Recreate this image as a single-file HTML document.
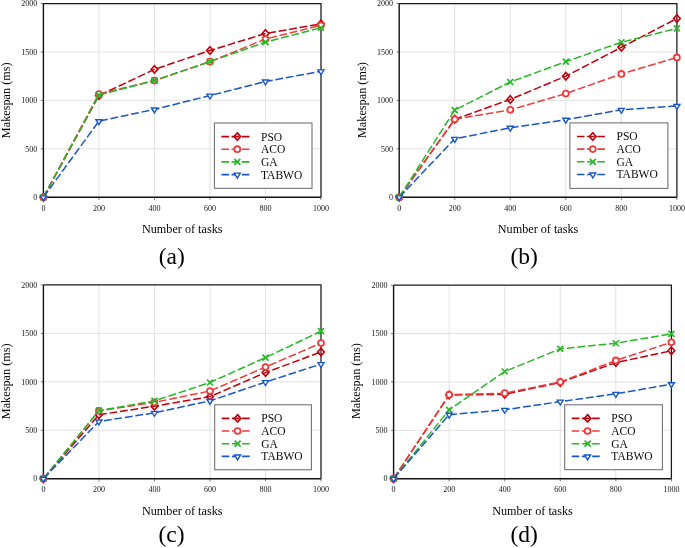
<!DOCTYPE html>
<html><head><meta charset="utf-8"><title>Makespan comparison</title>
<style>
html,body{margin:0;padding:0;background:#fff;}
body{width:685px;height:548px;overflow:hidden;font-family:"Liberation Serif",serif;}
svg{display:block;filter:blur(0.3px);}
</style></head>
<body>
<svg width="685" height="548" viewBox="0 0 685 548">
<rect width="685" height="548" fill="#fff"/>
<path d='M98.92 3.50V197.30M154.44 3.50V197.30M209.96 3.50V197.30M265.48 3.50V197.30M43.40 148.85H321.00M43.40 100.40H321.00M43.40 51.95H321.00' stroke='#e2e2e2' stroke-width='1' fill='none'/>
<path d='M43.40 197.30V199.90M98.92 197.30V199.90M154.44 197.30V199.90M209.96 197.30V199.90M265.48 197.30V199.90M321.00 197.30V199.90M40.80 197.30H43.40M40.80 148.85H43.40M40.80 100.40H43.40M40.80 51.95H43.40M40.80 3.50H43.40' stroke='#555' stroke-width='0.8' fill='none'/>
<path d='M43.40 3.50H321.00V197.30' stroke='#1a1a1a' stroke-width='1.25' fill='none'/>
<path d='M43.40 3.50V197.30H321.00' stroke='#111' stroke-width='1.4' fill='none'/>
<text x='43.40' y='210.50' text-anchor='middle' font-size='8' font-family='Liberation Serif, serif' fill='#141414'>0</text>
<text x='98.92' y='210.50' text-anchor='middle' font-size='8' font-family='Liberation Serif, serif' fill='#141414'>200</text>
<text x='154.44' y='210.50' text-anchor='middle' font-size='8' font-family='Liberation Serif, serif' fill='#141414'>400</text>
<text x='209.96' y='210.50' text-anchor='middle' font-size='8' font-family='Liberation Serif, serif' fill='#141414'>600</text>
<text x='265.48' y='210.50' text-anchor='middle' font-size='8' font-family='Liberation Serif, serif' fill='#141414'>800</text>
<text x='321.00' y='210.50' text-anchor='middle' font-size='8' font-family='Liberation Serif, serif' fill='#141414'>1000</text>
<text x='37.20' y='200.00' text-anchor='end' font-size='8' font-family='Liberation Serif, serif' fill='#141414'>0</text>
<text x='37.20' y='151.55' text-anchor='end' font-size='8' font-family='Liberation Serif, serif' fill='#141414'>500</text>
<text x='37.20' y='103.10' text-anchor='end' font-size='8' font-family='Liberation Serif, serif' fill='#141414'>1000</text>
<text x='37.20' y='54.65' text-anchor='end' font-size='8' font-family='Liberation Serif, serif' fill='#141414'>1500</text>
<text x='37.20' y='6.20' text-anchor='end' font-size='8' font-family='Liberation Serif, serif' fill='#141414'>2000</text>
<text x='182.20' y='232.90' text-anchor='middle' font-size='12.2' font-family='Liberation Serif, serif' fill='#050505'>Number of tasks</text>
<text transform='translate(9.90 100.25) rotate(-90)' text-anchor='middle' font-size='12.25' font-family='Liberation Serif, serif' fill='#050505'>Makespan (ms)</text>
<text x='171.80' y='263.60' text-anchor='middle' font-size='23.5' font-family='Liberation Serif, serif' fill='#000'>(a)</text>
<polyline points='43.40,197.30 98.92,95.56 154.44,69.39 209.96,50.50 265.48,33.54 321.00,23.85' fill='none' stroke='#c0000c' stroke-width='1.5' stroke-dasharray='7.8 2.8' stroke-linejoin='round'/>
<path d='M43.40 193.55L46.75 197.30L43.40 201.05L40.05 197.30Z' fill='none' stroke='#c0000c' stroke-width='1.6'/>
<path d='M98.92 91.81L102.27 95.56L98.92 99.31L95.57 95.56Z' fill='none' stroke='#c0000c' stroke-width='1.6'/>
<path d='M154.44 65.64L157.79 69.39L154.44 73.14L151.09 69.39Z' fill='none' stroke='#c0000c' stroke-width='1.6'/>
<path d='M209.96 46.75L213.31 50.50L209.96 54.25L206.61 50.50Z' fill='none' stroke='#c0000c' stroke-width='1.6'/>
<path d='M265.48 29.79L268.83 33.54L265.48 37.29L262.13 33.54Z' fill='none' stroke='#c0000c' stroke-width='1.6'/>
<path d='M321.00 20.10L324.35 23.85L321.00 27.60L317.65 23.85Z' fill='none' stroke='#c0000c' stroke-width='1.6'/>
<polyline points='43.40,197.30 98.92,94.00 154.44,80.54 209.96,61.64 265.48,39.06 321.00,25.30' fill='none' stroke='#f03c3c' stroke-width='1.5' stroke-dasharray='7.8 2.8' stroke-linejoin='round'/>
<circle cx='43.40' cy='197.30' r='2.95' fill='#fff' stroke='#f03c3c' stroke-width='1.8'/>
<circle cx='98.92' cy='94.00' r='2.95' fill='#fff' stroke='#f03c3c' stroke-width='1.8'/>
<circle cx='154.44' cy='80.54' r='2.95' fill='#fff' stroke='#f03c3c' stroke-width='1.8'/>
<circle cx='209.96' cy='61.64' r='2.95' fill='#fff' stroke='#f03c3c' stroke-width='1.8'/>
<circle cx='265.48' cy='39.06' r='2.95' fill='#fff' stroke='#f03c3c' stroke-width='1.8'/>
<circle cx='321.00' cy='25.30' r='2.95' fill='#fff' stroke='#f03c3c' stroke-width='1.8'/>
<polyline points='43.40,197.30 98.92,95.07 154.44,80.54 209.96,61.64 265.48,42.07 321.00,27.73' fill='none' stroke='#26b826' stroke-width='1.5' stroke-dasharray='7.8 2.8' stroke-linejoin='round'/>
<path d='M40.40 194.30L46.40 200.30M40.40 200.30L46.40 194.30' stroke='#26b826' stroke-width='1.7' fill='none'/>
<path d='M95.92 92.07L101.92 98.07M95.92 98.07L101.92 92.07' stroke='#26b826' stroke-width='1.7' fill='none'/>
<path d='M151.44 77.54L157.44 83.54M151.44 83.54L157.44 77.54' stroke='#26b826' stroke-width='1.7' fill='none'/>
<path d='M206.96 58.64L212.96 64.64M206.96 64.64L212.96 58.64' stroke='#26b826' stroke-width='1.7' fill='none'/>
<path d='M262.48 39.07L268.48 45.07M262.48 45.07L268.48 39.07' stroke='#26b826' stroke-width='1.7' fill='none'/>
<path d='M318.00 24.73L324.00 30.73M318.00 30.73L324.00 24.73' stroke='#26b826' stroke-width='1.7' fill='none'/>
<polyline points='43.40,197.30 98.92,121.14 154.44,109.41 209.96,95.56 265.48,81.50 321.00,71.33' fill='none' stroke='#1856cc' stroke-width='1.5' stroke-dasharray='7.8 2.8' stroke-linejoin='round'/>
<path d='M40.40 195.84L46.40 195.84L43.40 200.74Z' fill='#fff' stroke='#1856cc' stroke-width='1.4' stroke-linejoin='miter'/>
<path d='M95.92 119.68L101.92 119.68L98.92 124.58Z' fill='#fff' stroke='#1856cc' stroke-width='1.4' stroke-linejoin='miter'/>
<path d='M151.44 107.95L157.44 107.95L154.44 112.85Z' fill='#fff' stroke='#1856cc' stroke-width='1.4' stroke-linejoin='miter'/>
<path d='M206.96 94.10L212.96 94.10L209.96 99.00Z' fill='#fff' stroke='#1856cc' stroke-width='1.4' stroke-linejoin='miter'/>
<path d='M262.48 80.05L268.48 80.05L265.48 84.95Z' fill='#fff' stroke='#1856cc' stroke-width='1.4' stroke-linejoin='miter'/>
<path d='M318.00 69.87L324.00 69.87L321.00 74.77Z' fill='#fff' stroke='#1856cc' stroke-width='1.4' stroke-linejoin='miter'/>
<rect x='214.40' y='123.00' width='97.60' height='65.30' fill='#fff' stroke='#666' stroke-width='1'/>
<path d='M221.40 136.60H250.00' stroke='#c0000c' stroke-width='1.6' stroke-dasharray='7.6 2.6' fill='none'/>
<path d='M237.30 132.85L240.65 136.60L237.30 140.35L233.95 136.60Z' fill='none' stroke='#c0000c' stroke-width='1.6'/>
<text x='261.00' y='140.50' font-size='11.5' font-family='Liberation Serif, serif' fill='#0a0a0a'>PSO</text>
<path d='M221.40 149.20H250.00' stroke='#f03c3c' stroke-width='1.6' stroke-dasharray='7.6 2.6' fill='none'/>
<circle cx='237.30' cy='149.20' r='2.95' fill='#fff' stroke='#f03c3c' stroke-width='1.8'/>
<text x='261.00' y='153.10' font-size='11.5' font-family='Liberation Serif, serif' fill='#0a0a0a'>ACO</text>
<path d='M221.40 161.90H250.00' stroke='#26b826' stroke-width='1.6' stroke-dasharray='7.6 2.6' fill='none'/>
<path d='M234.30 158.90L240.30 164.90M234.30 164.90L240.30 158.90' stroke='#26b826' stroke-width='1.7' fill='none'/>
<text x='261.00' y='165.80' font-size='11.5' font-family='Liberation Serif, serif' fill='#0a0a0a'>GA</text>
<path d='M221.40 174.60H250.00' stroke='#1856cc' stroke-width='1.6' stroke-dasharray='7.6 2.6' fill='none'/>
<path d='M234.30 173.14L240.30 173.14L237.30 178.04Z' fill='#fff' stroke='#1856cc' stroke-width='1.4' stroke-linejoin='miter'/>
<text x='261.00' y='178.50' font-size='11.5' font-family='Liberation Serif, serif' fill='#0a0a0a'>TABWO</text>
<path d='M454.74 3.50V197.30M510.28 3.50V197.30M565.82 3.50V197.30M621.36 3.50V197.30M399.20 148.85H676.90M399.20 100.40H676.90M399.20 51.95H676.90' stroke='#e2e2e2' stroke-width='1' fill='none'/>
<path d='M399.20 197.30V199.90M454.74 197.30V199.90M510.28 197.30V199.90M565.82 197.30V199.90M621.36 197.30V199.90M676.90 197.30V199.90M396.60 197.30H399.20M396.60 148.85H399.20M396.60 100.40H399.20M396.60 51.95H399.20M396.60 3.50H399.20' stroke='#555' stroke-width='0.8' fill='none'/>
<path d='M399.20 3.50H676.90V197.30' stroke='#1a1a1a' stroke-width='1.25' fill='none'/>
<path d='M399.20 3.50V197.30H676.90' stroke='#111' stroke-width='1.4' fill='none'/>
<text x='399.20' y='210.50' text-anchor='middle' font-size='8' font-family='Liberation Serif, serif' fill='#141414'>0</text>
<text x='454.74' y='210.50' text-anchor='middle' font-size='8' font-family='Liberation Serif, serif' fill='#141414'>200</text>
<text x='510.28' y='210.50' text-anchor='middle' font-size='8' font-family='Liberation Serif, serif' fill='#141414'>400</text>
<text x='565.82' y='210.50' text-anchor='middle' font-size='8' font-family='Liberation Serif, serif' fill='#141414'>600</text>
<text x='621.36' y='210.50' text-anchor='middle' font-size='8' font-family='Liberation Serif, serif' fill='#141414'>800</text>
<text x='676.90' y='210.50' text-anchor='middle' font-size='8' font-family='Liberation Serif, serif' fill='#141414'>1000</text>
<text x='393.00' y='200.00' text-anchor='end' font-size='8' font-family='Liberation Serif, serif' fill='#141414'>0</text>
<text x='393.00' y='151.55' text-anchor='end' font-size='8' font-family='Liberation Serif, serif' fill='#141414'>500</text>
<text x='393.00' y='103.10' text-anchor='end' font-size='8' font-family='Liberation Serif, serif' fill='#141414'>1000</text>
<text x='393.00' y='54.65' text-anchor='end' font-size='8' font-family='Liberation Serif, serif' fill='#141414'>1500</text>
<text x='393.00' y='6.20' text-anchor='end' font-size='8' font-family='Liberation Serif, serif' fill='#141414'>2000</text>
<text x='538.05' y='232.90' text-anchor='middle' font-size='12.2' font-family='Liberation Serif, serif' fill='#050505'>Number of tasks</text>
<text transform='translate(365.80 100.10) rotate(-90)' text-anchor='middle' font-size='12.25' font-family='Liberation Serif, serif' fill='#050505'>Makespan (ms)</text>
<text x='524.10' y='263.60' text-anchor='middle' font-size='23.5' font-family='Liberation Serif, serif' fill='#000'>(b)</text>
<polyline points='399.20,197.30 454.74,119.30 510.28,99.43 565.82,76.18 621.36,47.30 676.90,18.52' fill='none' stroke='#c0000c' stroke-width='1.5' stroke-dasharray='7.8 2.8' stroke-linejoin='round'/>
<path d='M399.20 193.55L402.55 197.30L399.20 201.05L395.85 197.30Z' fill='none' stroke='#c0000c' stroke-width='1.6'/>
<path d='M454.74 115.55L458.09 119.30L454.74 123.05L451.39 119.30Z' fill='none' stroke='#c0000c' stroke-width='1.6'/>
<path d='M510.28 95.68L513.63 99.43L510.28 103.18L506.93 99.43Z' fill='none' stroke='#c0000c' stroke-width='1.6'/>
<path d='M565.82 72.43L569.17 76.18L565.82 79.93L562.47 76.18Z' fill='none' stroke='#c0000c' stroke-width='1.6'/>
<path d='M621.36 43.55L624.71 47.30L621.36 51.05L618.01 47.30Z' fill='none' stroke='#c0000c' stroke-width='1.6'/>
<path d='M676.90 14.77L680.25 18.52L676.90 22.27L673.55 18.52Z' fill='none' stroke='#c0000c' stroke-width='1.6'/>
<polyline points='399.20,197.30 454.74,119.30 510.28,109.80 565.82,93.62 621.36,73.95 676.90,57.47' fill='none' stroke='#f03c3c' stroke-width='1.5' stroke-dasharray='7.8 2.8' stroke-linejoin='round'/>
<circle cx='399.20' cy='197.30' r='2.95' fill='#fff' stroke='#f03c3c' stroke-width='1.8'/>
<circle cx='454.74' cy='119.30' r='2.95' fill='#fff' stroke='#f03c3c' stroke-width='1.8'/>
<circle cx='510.28' cy='109.80' r='2.95' fill='#fff' stroke='#f03c3c' stroke-width='1.8'/>
<circle cx='565.82' cy='93.62' r='2.95' fill='#fff' stroke='#f03c3c' stroke-width='1.8'/>
<circle cx='621.36' cy='73.95' r='2.95' fill='#fff' stroke='#f03c3c' stroke-width='1.8'/>
<circle cx='676.90' cy='57.47' r='2.95' fill='#fff' stroke='#f03c3c' stroke-width='1.8'/>
<polyline points='399.20,197.30 454.74,110.09 510.28,81.99 565.82,61.64 621.36,42.26 676.90,28.40' fill='none' stroke='#26b826' stroke-width='1.5' stroke-dasharray='7.8 2.8' stroke-linejoin='round'/>
<path d='M396.20 194.30L402.20 200.30M396.20 200.30L402.20 194.30' stroke='#26b826' stroke-width='1.7' fill='none'/>
<path d='M451.74 107.09L457.74 113.09M451.74 113.09L457.74 107.09' stroke='#26b826' stroke-width='1.7' fill='none'/>
<path d='M507.28 78.99L513.28 84.99M507.28 84.99L513.28 78.99' stroke='#26b826' stroke-width='1.7' fill='none'/>
<path d='M562.82 58.64L568.82 64.64M562.82 64.64L568.82 58.64' stroke='#26b826' stroke-width='1.7' fill='none'/>
<path d='M618.36 39.26L624.36 45.26M618.36 45.26L624.36 39.26' stroke='#26b826' stroke-width='1.7' fill='none'/>
<path d='M673.90 25.40L679.90 31.40M673.90 31.40L679.90 25.40' stroke='#26b826' stroke-width='1.7' fill='none'/>
<polyline points='399.20,197.30 454.74,138.87 510.28,127.73 565.82,119.78 621.36,109.80 676.90,105.92' fill='none' stroke='#1856cc' stroke-width='1.5' stroke-dasharray='7.8 2.8' stroke-linejoin='round'/>
<path d='M396.20 195.84L402.20 195.84L399.20 200.74Z' fill='#fff' stroke='#1856cc' stroke-width='1.4' stroke-linejoin='miter'/>
<path d='M451.74 137.41L457.74 137.41L454.74 142.31Z' fill='#fff' stroke='#1856cc' stroke-width='1.4' stroke-linejoin='miter'/>
<path d='M507.28 126.27L513.28 126.27L510.28 131.17Z' fill='#fff' stroke='#1856cc' stroke-width='1.4' stroke-linejoin='miter'/>
<path d='M562.82 118.32L568.82 118.32L565.82 123.22Z' fill='#fff' stroke='#1856cc' stroke-width='1.4' stroke-linejoin='miter'/>
<path d='M618.36 108.34L624.36 108.34L621.36 113.24Z' fill='#fff' stroke='#1856cc' stroke-width='1.4' stroke-linejoin='miter'/>
<path d='M673.90 104.47L679.90 104.47L676.90 109.37Z' fill='#fff' stroke='#1856cc' stroke-width='1.4' stroke-linejoin='miter'/>
<rect x='569.90' y='122.90' width='98.00' height='65.50' fill='#fff' stroke='#666' stroke-width='1'/>
<path d='M576.90 136.50H605.50' stroke='#c0000c' stroke-width='1.6' stroke-dasharray='7.6 2.6' fill='none'/>
<path d='M592.80 132.75L596.15 136.50L592.80 140.25L589.45 136.50Z' fill='none' stroke='#c0000c' stroke-width='1.6'/>
<text x='616.50' y='140.40' font-size='11.5' font-family='Liberation Serif, serif' fill='#0a0a0a'>PSO</text>
<path d='M576.90 149.10H605.50' stroke='#f03c3c' stroke-width='1.6' stroke-dasharray='7.6 2.6' fill='none'/>
<circle cx='592.80' cy='149.10' r='2.95' fill='#fff' stroke='#f03c3c' stroke-width='1.8'/>
<text x='616.50' y='153.00' font-size='11.5' font-family='Liberation Serif, serif' fill='#0a0a0a'>ACO</text>
<path d='M576.90 161.80H605.50' stroke='#26b826' stroke-width='1.6' stroke-dasharray='7.6 2.6' fill='none'/>
<path d='M589.80 158.80L595.80 164.80M589.80 164.80L595.80 158.80' stroke='#26b826' stroke-width='1.7' fill='none'/>
<text x='616.50' y='165.70' font-size='11.5' font-family='Liberation Serif, serif' fill='#0a0a0a'>GA</text>
<path d='M576.90 174.50H605.50' stroke='#1856cc' stroke-width='1.6' stroke-dasharray='7.6 2.6' fill='none'/>
<path d='M589.80 173.04L595.80 173.04L592.80 177.94Z' fill='#fff' stroke='#1856cc' stroke-width='1.4' stroke-linejoin='miter'/>
<text x='616.50' y='178.40' font-size='11.5' font-family='Liberation Serif, serif' fill='#0a0a0a'>TABWO</text>
<path d='M98.92 284.90V478.70M154.44 284.90V478.70M209.96 284.90V478.70M265.48 284.90V478.70M43.40 430.25H321.00M43.40 381.80H321.00M43.40 333.35H321.00' stroke='#e2e2e2' stroke-width='1' fill='none'/>
<path d='M43.40 478.70V481.30M98.92 478.70V481.30M154.44 478.70V481.30M209.96 478.70V481.30M265.48 478.70V481.30M321.00 478.70V481.30M40.80 478.70H43.40M40.80 430.25H43.40M40.80 381.80H43.40M40.80 333.35H43.40M40.80 284.90H43.40' stroke='#555' stroke-width='0.8' fill='none'/>
<path d='M43.40 284.90H321.00V478.70' stroke='#1a1a1a' stroke-width='1.25' fill='none'/>
<path d='M43.40 284.90V478.70H321.00' stroke='#111' stroke-width='1.4' fill='none'/>
<text x='43.40' y='491.90' text-anchor='middle' font-size='8' font-family='Liberation Serif, serif' fill='#141414'>0</text>
<text x='98.92' y='491.90' text-anchor='middle' font-size='8' font-family='Liberation Serif, serif' fill='#141414'>200</text>
<text x='154.44' y='491.90' text-anchor='middle' font-size='8' font-family='Liberation Serif, serif' fill='#141414'>400</text>
<text x='209.96' y='491.90' text-anchor='middle' font-size='8' font-family='Liberation Serif, serif' fill='#141414'>600</text>
<text x='265.48' y='491.90' text-anchor='middle' font-size='8' font-family='Liberation Serif, serif' fill='#141414'>800</text>
<text x='321.00' y='491.90' text-anchor='middle' font-size='8' font-family='Liberation Serif, serif' fill='#141414'>1000</text>
<text x='37.20' y='481.40' text-anchor='end' font-size='8' font-family='Liberation Serif, serif' fill='#141414'>0</text>
<text x='37.20' y='432.95' text-anchor='end' font-size='8' font-family='Liberation Serif, serif' fill='#141414'>500</text>
<text x='37.20' y='384.50' text-anchor='end' font-size='8' font-family='Liberation Serif, serif' fill='#141414'>1000</text>
<text x='37.20' y='336.05' text-anchor='end' font-size='8' font-family='Liberation Serif, serif' fill='#141414'>1500</text>
<text x='37.20' y='287.60' text-anchor='end' font-size='8' font-family='Liberation Serif, serif' fill='#141414'>2000</text>
<text x='182.20' y='514.50' text-anchor='middle' font-size='12.2' font-family='Liberation Serif, serif' fill='#050505'>Number of tasks</text>
<text transform='translate(9.80 381.30) rotate(-90)' text-anchor='middle' font-size='12.25' font-family='Liberation Serif, serif' fill='#050505'>Makespan (ms)</text>
<text x='171.60' y='541.50' text-anchor='middle' font-size='23.5' font-family='Liberation Serif, serif' fill='#000'>(c)</text>
<polyline points='43.40,478.70 98.92,414.75 154.44,406.22 209.96,396.63 265.48,372.59 321.00,351.95' fill='none' stroke='#c0000c' stroke-width='1.5' stroke-dasharray='7.8 2.8' stroke-linejoin='round'/>
<path d='M43.40 474.95L46.75 478.70L43.40 482.45L40.05 478.70Z' fill='none' stroke='#c0000c' stroke-width='1.6'/>
<path d='M98.92 411.00L102.27 414.75L98.92 418.50L95.57 414.75Z' fill='none' stroke='#c0000c' stroke-width='1.6'/>
<path d='M154.44 402.47L157.79 406.22L154.44 409.97L151.09 406.22Z' fill='none' stroke='#c0000c' stroke-width='1.6'/>
<path d='M209.96 392.88L213.31 396.63L209.96 400.38L206.61 396.63Z' fill='none' stroke='#c0000c' stroke-width='1.6'/>
<path d='M265.48 368.84L268.83 372.59L265.48 376.34L262.13 372.59Z' fill='none' stroke='#c0000c' stroke-width='1.6'/>
<path d='M321.00 348.20L324.35 351.95L321.00 355.70L317.65 351.95Z' fill='none' stroke='#c0000c' stroke-width='1.6'/>
<polyline points='43.40,478.70 98.92,410.87 154.44,402.34 209.96,391.01 265.48,367.07 321.00,343.04' fill='none' stroke='#f03c3c' stroke-width='1.5' stroke-dasharray='7.8 2.8' stroke-linejoin='round'/>
<circle cx='43.40' cy='478.70' r='2.95' fill='#fff' stroke='#f03c3c' stroke-width='1.8'/>
<circle cx='98.92' cy='410.87' r='2.95' fill='#fff' stroke='#f03c3c' stroke-width='1.8'/>
<circle cx='154.44' cy='402.34' r='2.95' fill='#fff' stroke='#f03c3c' stroke-width='1.8'/>
<circle cx='209.96' cy='391.01' r='2.95' fill='#fff' stroke='#f03c3c' stroke-width='1.8'/>
<circle cx='265.48' cy='367.07' r='2.95' fill='#fff' stroke='#f03c3c' stroke-width='1.8'/>
<circle cx='321.00' cy='343.04' r='2.95' fill='#fff' stroke='#f03c3c' stroke-width='1.8'/>
<polyline points='43.40,478.70 98.92,410.68 154.44,400.89 209.96,382.48 265.48,357.57 321.00,331.22' fill='none' stroke='#26b826' stroke-width='1.5' stroke-dasharray='7.8 2.8' stroke-linejoin='round'/>
<path d='M40.40 475.70L46.40 481.70M40.40 481.70L46.40 475.70' stroke='#26b826' stroke-width='1.7' fill='none'/>
<path d='M95.92 407.68L101.92 413.68M95.92 413.68L101.92 407.68' stroke='#26b826' stroke-width='1.7' fill='none'/>
<path d='M151.44 397.89L157.44 403.89M151.44 403.89L157.44 397.89' stroke='#26b826' stroke-width='1.7' fill='none'/>
<path d='M206.96 379.48L212.96 385.48M206.96 385.48L212.96 379.48' stroke='#26b826' stroke-width='1.7' fill='none'/>
<path d='M262.48 354.57L268.48 360.57M262.48 360.57L268.48 354.57' stroke='#26b826' stroke-width='1.7' fill='none'/>
<path d='M318.00 328.22L324.00 334.22M318.00 334.22L324.00 328.22' stroke='#26b826' stroke-width='1.7' fill='none'/>
<polyline points='43.40,478.70 98.92,421.53 154.44,412.81 209.96,400.89 265.48,382.09 321.00,364.07' fill='none' stroke='#1856cc' stroke-width='1.5' stroke-dasharray='7.8 2.8' stroke-linejoin='round'/>
<path d='M40.40 477.24L46.40 477.24L43.40 482.14Z' fill='#fff' stroke='#1856cc' stroke-width='1.4' stroke-linejoin='miter'/>
<path d='M95.92 420.07L101.92 420.07L98.92 424.97Z' fill='#fff' stroke='#1856cc' stroke-width='1.4' stroke-linejoin='miter'/>
<path d='M151.44 411.35L157.44 411.35L154.44 416.25Z' fill='#fff' stroke='#1856cc' stroke-width='1.4' stroke-linejoin='miter'/>
<path d='M206.96 399.43L212.96 399.43L209.96 404.33Z' fill='#fff' stroke='#1856cc' stroke-width='1.4' stroke-linejoin='miter'/>
<path d='M262.48 380.63L268.48 380.63L265.48 385.53Z' fill='#fff' stroke='#1856cc' stroke-width='1.4' stroke-linejoin='miter'/>
<path d='M318.00 362.61L324.00 362.61L321.00 367.51Z' fill='#fff' stroke='#1856cc' stroke-width='1.4' stroke-linejoin='miter'/>
<rect x='214.70' y='404.80' width='96.70' height='65.00' fill='#fff' stroke='#666' stroke-width='1'/>
<path d='M221.70 418.40H250.30' stroke='#c0000c' stroke-width='1.6' stroke-dasharray='7.6 2.6' fill='none'/>
<path d='M237.60 414.65L240.95 418.40L237.60 422.15L234.25 418.40Z' fill='none' stroke='#c0000c' stroke-width='1.6'/>
<text x='261.30' y='422.30' font-size='11.5' font-family='Liberation Serif, serif' fill='#0a0a0a'>PSO</text>
<path d='M221.70 431.00H250.30' stroke='#f03c3c' stroke-width='1.6' stroke-dasharray='7.6 2.6' fill='none'/>
<circle cx='237.60' cy='431.00' r='2.95' fill='#fff' stroke='#f03c3c' stroke-width='1.8'/>
<text x='261.30' y='434.90' font-size='11.5' font-family='Liberation Serif, serif' fill='#0a0a0a'>ACO</text>
<path d='M221.70 443.70H250.30' stroke='#26b826' stroke-width='1.6' stroke-dasharray='7.6 2.6' fill='none'/>
<path d='M234.60 440.70L240.60 446.70M234.60 446.70L240.60 440.70' stroke='#26b826' stroke-width='1.7' fill='none'/>
<text x='261.30' y='447.60' font-size='11.5' font-family='Liberation Serif, serif' fill='#0a0a0a'>GA</text>
<path d='M221.70 456.40H250.30' stroke='#1856cc' stroke-width='1.6' stroke-dasharray='7.6 2.6' fill='none'/>
<path d='M234.60 454.94L240.60 454.94L237.60 459.84Z' fill='#fff' stroke='#1856cc' stroke-width='1.4' stroke-linejoin='miter'/>
<text x='261.30' y='460.30' font-size='11.5' font-family='Liberation Serif, serif' fill='#0a0a0a'>TABWO</text>
<path d='M449.16 285.20V478.70M504.72 285.20V478.70M560.28 285.20V478.70M615.84 285.20V478.70M393.60 430.32H671.40M393.60 381.95H671.40M393.60 333.57H671.40' stroke='#e2e2e2' stroke-width='1' fill='none'/>
<path d='M393.60 478.70V481.30M449.16 478.70V481.30M504.72 478.70V481.30M560.28 478.70V481.30M615.84 478.70V481.30M671.40 478.70V481.30M391.00 478.70H393.60M391.00 430.32H393.60M391.00 381.95H393.60M391.00 333.57H393.60M391.00 285.20H393.60' stroke='#555' stroke-width='0.8' fill='none'/>
<path d='M393.60 285.20H671.40V478.70' stroke='#1a1a1a' stroke-width='1.25' fill='none'/>
<path d='M393.60 285.20V478.70H671.40' stroke='#111' stroke-width='1.4' fill='none'/>
<text x='393.60' y='491.90' text-anchor='middle' font-size='8' font-family='Liberation Serif, serif' fill='#141414'>0</text>
<text x='449.16' y='491.90' text-anchor='middle' font-size='8' font-family='Liberation Serif, serif' fill='#141414'>200</text>
<text x='504.72' y='491.90' text-anchor='middle' font-size='8' font-family='Liberation Serif, serif' fill='#141414'>400</text>
<text x='560.28' y='491.90' text-anchor='middle' font-size='8' font-family='Liberation Serif, serif' fill='#141414'>600</text>
<text x='615.84' y='491.90' text-anchor='middle' font-size='8' font-family='Liberation Serif, serif' fill='#141414'>800</text>
<text x='671.40' y='491.90' text-anchor='middle' font-size='8' font-family='Liberation Serif, serif' fill='#141414'>1000</text>
<text x='387.40' y='481.40' text-anchor='end' font-size='8' font-family='Liberation Serif, serif' fill='#141414'>0</text>
<text x='387.40' y='433.02' text-anchor='end' font-size='8' font-family='Liberation Serif, serif' fill='#141414'>500</text>
<text x='387.40' y='384.65' text-anchor='end' font-size='8' font-family='Liberation Serif, serif' fill='#141414'>1000</text>
<text x='387.40' y='336.27' text-anchor='end' font-size='8' font-family='Liberation Serif, serif' fill='#141414'>1500</text>
<text x='387.40' y='287.90' text-anchor='end' font-size='8' font-family='Liberation Serif, serif' fill='#141414'>2000</text>
<text x='532.50' y='514.50' text-anchor='middle' font-size='12.2' font-family='Liberation Serif, serif' fill='#050505'>Number of tasks</text>
<text transform='translate(360.20 381.15) rotate(-90)' text-anchor='middle' font-size='12.25' font-family='Liberation Serif, serif' fill='#050505'>Makespan (ms)</text>
<text x='524.10' y='541.50' text-anchor='middle' font-size='23.5' font-family='Liberation Serif, serif' fill='#000'>(d)</text>
<polyline points='393.60,478.70 449.16,395.01 504.72,394.33 560.28,382.43 615.84,362.60 671.40,350.80' fill='none' stroke='#c0000c' stroke-width='1.5' stroke-dasharray='7.8 2.8' stroke-linejoin='round'/>
<path d='M393.60 474.95L396.95 478.70L393.60 482.45L390.25 478.70Z' fill='none' stroke='#c0000c' stroke-width='1.6'/>
<path d='M449.16 391.26L452.51 395.01L449.16 398.76L445.81 395.01Z' fill='none' stroke='#c0000c' stroke-width='1.6'/>
<path d='M504.72 390.58L508.07 394.33L504.72 398.08L501.37 394.33Z' fill='none' stroke='#c0000c' stroke-width='1.6'/>
<path d='M560.28 378.68L563.63 382.43L560.28 386.18L556.93 382.43Z' fill='none' stroke='#c0000c' stroke-width='1.6'/>
<path d='M615.84 358.85L619.19 362.60L615.84 366.35L612.49 362.60Z' fill='none' stroke='#c0000c' stroke-width='1.6'/>
<path d='M671.40 347.05L674.75 350.80L671.40 354.55L668.05 350.80Z' fill='none' stroke='#c0000c' stroke-width='1.6'/>
<polyline points='393.60,478.70 449.16,394.72 504.72,393.17 560.28,381.95 615.84,360.47 671.40,342.28' fill='none' stroke='#f03c3c' stroke-width='1.5' stroke-dasharray='7.8 2.8' stroke-linejoin='round'/>
<circle cx='393.60' cy='478.70' r='2.95' fill='#fff' stroke='#f03c3c' stroke-width='1.8'/>
<circle cx='449.16' cy='394.72' r='2.95' fill='#fff' stroke='#f03c3c' stroke-width='1.8'/>
<circle cx='504.72' cy='393.17' r='2.95' fill='#fff' stroke='#f03c3c' stroke-width='1.8'/>
<circle cx='560.28' cy='381.95' r='2.95' fill='#fff' stroke='#f03c3c' stroke-width='1.8'/>
<circle cx='615.84' cy='360.47' r='2.95' fill='#fff' stroke='#f03c3c' stroke-width='1.8'/>
<circle cx='671.40' cy='342.28' r='2.95' fill='#fff' stroke='#f03c3c' stroke-width='1.8'/>
<polyline points='393.60,478.70 449.16,409.81 504.72,371.50 560.28,348.86 615.84,343.25 671.40,333.87' fill='none' stroke='#26b826' stroke-width='1.5' stroke-dasharray='7.8 2.8' stroke-linejoin='round'/>
<path d='M390.60 475.70L396.60 481.70M390.60 481.70L396.60 475.70' stroke='#26b826' stroke-width='1.7' fill='none'/>
<path d='M446.16 406.81L452.16 412.81M446.16 412.81L452.16 406.81' stroke='#26b826' stroke-width='1.7' fill='none'/>
<path d='M501.72 368.50L507.72 374.50M501.72 374.50L507.72 368.50' stroke='#26b826' stroke-width='1.7' fill='none'/>
<path d='M557.28 345.86L563.28 351.86M557.28 351.86L563.28 345.86' stroke='#26b826' stroke-width='1.7' fill='none'/>
<path d='M612.84 340.25L618.84 346.25M612.84 346.25L618.84 340.25' stroke='#26b826' stroke-width='1.7' fill='none'/>
<path d='M668.40 330.87L674.40 336.87M668.40 336.87L674.40 330.87' stroke='#26b826' stroke-width='1.7' fill='none'/>
<polyline points='393.60,478.70 449.16,414.65 504.72,409.81 560.28,401.59 615.84,393.85 671.40,384.18' fill='none' stroke='#1856cc' stroke-width='1.5' stroke-dasharray='7.8 2.8' stroke-linejoin='round'/>
<path d='M390.60 477.24L396.60 477.24L393.60 482.14Z' fill='#fff' stroke='#1856cc' stroke-width='1.4' stroke-linejoin='miter'/>
<path d='M446.16 413.19L452.16 413.19L449.16 418.09Z' fill='#fff' stroke='#1856cc' stroke-width='1.4' stroke-linejoin='miter'/>
<path d='M501.72 408.36L507.72 408.36L504.72 413.26Z' fill='#fff' stroke='#1856cc' stroke-width='1.4' stroke-linejoin='miter'/>
<path d='M557.28 400.13L563.28 400.13L560.28 405.03Z' fill='#fff' stroke='#1856cc' stroke-width='1.4' stroke-linejoin='miter'/>
<path d='M612.84 392.39L618.84 392.39L615.84 397.29Z' fill='#fff' stroke='#1856cc' stroke-width='1.4' stroke-linejoin='miter'/>
<path d='M668.40 382.72L674.40 382.72L671.40 387.62Z' fill='#fff' stroke='#1856cc' stroke-width='1.4' stroke-linejoin='miter'/>
<rect x='564.70' y='404.80' width='97.70' height='64.90' fill='#fff' stroke='#666' stroke-width='1'/>
<path d='M571.70 418.40H600.30' stroke='#c0000c' stroke-width='1.6' stroke-dasharray='7.6 2.6' fill='none'/>
<path d='M587.60 414.65L590.95 418.40L587.60 422.15L584.25 418.40Z' fill='none' stroke='#c0000c' stroke-width='1.6'/>
<text x='611.30' y='422.30' font-size='11.5' font-family='Liberation Serif, serif' fill='#0a0a0a'>PSO</text>
<path d='M571.70 431.00H600.30' stroke='#f03c3c' stroke-width='1.6' stroke-dasharray='7.6 2.6' fill='none'/>
<circle cx='587.60' cy='431.00' r='2.95' fill='#fff' stroke='#f03c3c' stroke-width='1.8'/>
<text x='611.30' y='434.90' font-size='11.5' font-family='Liberation Serif, serif' fill='#0a0a0a'>ACO</text>
<path d='M571.70 443.70H600.30' stroke='#26b826' stroke-width='1.6' stroke-dasharray='7.6 2.6' fill='none'/>
<path d='M584.60 440.70L590.60 446.70M584.60 446.70L590.60 440.70' stroke='#26b826' stroke-width='1.7' fill='none'/>
<text x='611.30' y='447.60' font-size='11.5' font-family='Liberation Serif, serif' fill='#0a0a0a'>GA</text>
<path d='M571.70 456.40H600.30' stroke='#1856cc' stroke-width='1.6' stroke-dasharray='7.6 2.6' fill='none'/>
<path d='M584.60 454.94L590.60 454.94L587.60 459.84Z' fill='#fff' stroke='#1856cc' stroke-width='1.4' stroke-linejoin='miter'/>
<text x='611.30' y='460.30' font-size='11.5' font-family='Liberation Serif, serif' fill='#0a0a0a'>TABWO</text>
</svg>
</body></html>
